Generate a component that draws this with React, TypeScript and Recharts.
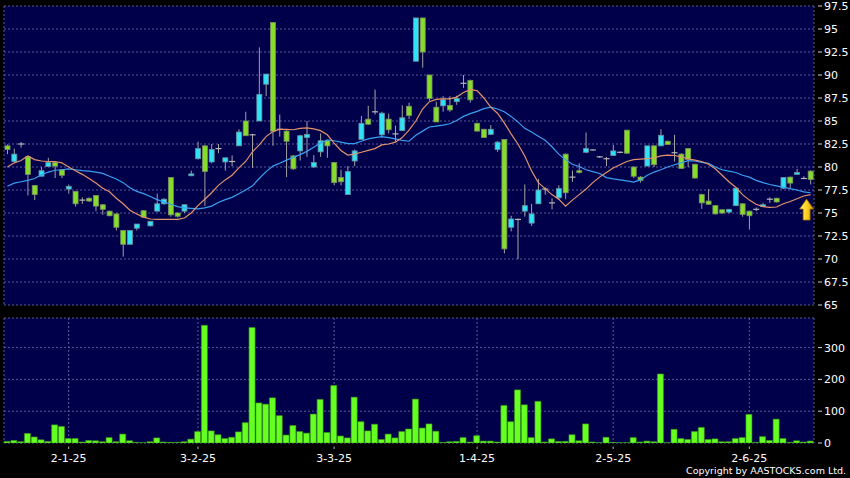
import React from 'react';
import { ComposedChart, Bar, Line, XAxis, YAxis, CartesianGrid } from 'recharts';

const opens = [82.3, 80.6, 82.5, 81.1, 78.0, 79.0, 80.05, 80.5, 79.7, 77.6,
  77.35, 76.4, 76.6, 76.9, 75.9, 75.2, 74.9, 73.1, 71.6, 73.35,
  75.25, 73.6, 75.2, 76.0, 78.85, 75.0, 75.2, 79.05, 80.9, 82.3,
  80.55, 82.0, 80.55, 80.6, 82.3, 85.0, 83.5, 85.0, 89.0, 95.7,
  84.1, 83.9, 81.2, 81.75, 83.2, 80.0, 81.65, 82.85, 80.5, 78.85,
  77.0, 80.65, 83.0, 85.2, 86.0, 83.5, 85.2, 83.6, 83.95, 86.6,
  91.5, 96.2, 90.0, 86.5, 86.65, 86.7, 87.1, 89.1, 89.4, 84.75,
  84.1, 83.55, 81.9, 83.0, 73.45, 74.3, 75.2, 73.9, 76.0, 77.6,
  76.1, 76.65, 81.4, 78.9, 79.6, 81.6, 81.85, 81.1, 80.9, 81.25,
  81.6, 84.0, 80.0, 78.9, 80.1, 82.3, 82.3, 82.8, 81.55, 81.4,
  82.0, 80.3, 77.0, 76.3, 75.8, 75.35, 75.1, 75.8, 76.0, 75.2,
  75.4, 75.7, 76.5, 76.6, 77.7, 78.9, 79.2, 78.75, 79.55];

const highs = [82.45, 82.0, 82.7, 81.2, 78.05, 80.0, 81.0, 80.6, 79.75, 78.1,
  77.4, 76.7, 76.7, 76.95, 75.95, 75.25, 74.95, 73.1, 73.1, 73.8,
  75.3, 74.1, 77.1, 76.6, 78.9, 75.05, 75.9, 79.6, 82.75, 82.35,
  82.5, 82.5, 81.0, 81.25, 84.1, 86.0, 83.6, 93.0, 90.1, 95.7,
  85.7, 84.0, 81.3, 83.5, 85.0, 81.3, 83.65, 82.9, 80.5, 79.7,
  80.1, 81.9, 85.55, 86.65, 88.4, 86.0, 85.8, 84.5, 86.7, 87.0,
  96.2, 96.2, 90.0, 87.1, 87.7, 87.7, 87.75, 90.0, 89.5, 84.8,
  84.15, 84.55, 82.8, 83.0, 74.7, 74.4, 78.1, 76.0, 78.7, 77.8,
  76.6, 78.0, 81.45, 79.6, 80.4, 83.75, 81.9, 81.2, 81.1, 82.4,
  81.7, 84.05, 80.05, 79.0, 82.3, 82.35, 84.1, 82.85, 83.5, 81.5,
  82.05, 80.35, 77.1, 77.6, 75.85, 75.4, 75.45, 77.7, 76.05, 75.25,
  75.6, 76.1, 76.7, 76.65, 78.85, 78.95, 79.8, 79.0, 79.65];

const lows = [81.4, 80.5, 82.1, 76.9, 76.4, 78.95, 80.0, 78.8, 78.8, 77.1,
  75.7, 76.0, 76.2, 75.2, 74.8, 74.65, 73.1, 70.25, 71.6, 73.1,
  74.5, 73.55, 75.2, 75.9, 74.6, 74.5, 75.0, 79.0, 80.8, 75.75,
  80.4, 81.5, 79.6, 80.1, 82.3, 83.4, 79.9, 85.0, 87.7, 82.3,
  83.3, 78.9, 79.7, 80.7, 81.1, 79.9, 81.1, 81.0, 78.0, 78.0,
  77.0, 80.1, 83.0, 84.6, 85.7, 83.2, 83.65, 82.75, 83.9, 85.2,
  91.5, 90.8, 87.2, 84.9, 86.0, 86.0, 86.75, 88.6, 87.0, 83.9,
  83.2, 83.5, 81.65, 70.6, 73.0, 70.0, 74.6, 73.6, 76.0, 77.0,
  75.4, 76.4, 76.5, 78.4, 79.3, 81.5, 81.8, 81.0, 80.1, 81.2,
  81.5, 81.45, 78.8, 78.3, 80.1, 80.0, 82.3, 82.4, 80.6, 79.8,
  80.0, 78.75, 75.45, 75.9, 74.85, 74.9, 74.95, 75.75, 74.6, 73.2,
  75.2, 75.65, 76.1, 76.15, 77.6, 77.7, 79.15, 78.7, 78.1];

const closes = [81.9, 81.4, 82.5, 79.2, 77.0, 79.6, 80.5, 80.1, 79.1, 77.9,
  76.0, 76.4, 76.3, 75.75, 75.4, 74.7, 73.45, 71.6, 73.1, 73.8,
  74.55, 74.1, 76.0, 76.5, 74.8, 74.65, 75.9, 79.25, 82.0, 79.5,
  81.9, 82.0, 81.0, 80.6, 83.8, 83.4, 83.5, 87.9, 90.1, 83.9,
  84.1, 82.8, 79.8, 83.4, 83.55, 80.5, 82.85, 82.3, 78.3, 78.4,
  79.5, 81.75, 84.75, 84.65, 86.0, 85.85, 84.05, 83.6, 85.35, 85.6,
  96.2, 92.5, 87.45, 84.9, 87.3, 86.2, 87.45, 89.1, 87.3, 83.9,
  83.2, 84.1, 82.7, 71.1, 74.35, 74.3, 75.8, 74.9, 77.5, 77.6,
  76.1, 77.65, 77.2, 78.9, 79.4, 82.0, 81.85, 81.1, 80.9, 81.75,
  81.6, 81.5, 79.0, 78.55, 82.3, 80.25, 83.45, 82.45, 81.55, 79.85,
  80.8, 78.8, 76.1, 75.95, 74.9, 75.0, 75.4, 77.7, 74.85, 74.7,
  75.4, 75.9, 76.5, 76.2, 78.85, 78.25, 79.4, 78.75, 78.65];

const maShort = [80.0, 80.45, 80.7, 81.2, 80.8, 80.65, 80.6, 80.6, 80.45, 80.0,
  79.6, 79.2, 78.75, 78.25, 77.7, 77.3, 76.6, 76.0, 75.3, 74.9,
  74.55, 74.35, 74.3, 74.3, 74.3, 74.3, 74.45, 75.0, 75.8, 76.5,
  77.2, 78.0, 78.6, 79.1, 79.9, 80.6, 81.65, 82.4, 83.3, 83.85,
  84.1, 84.1, 84.05, 84.2, 84.25, 84.15, 83.95, 83.5, 82.6, 81.8,
  81.3, 81.4, 81.6, 81.8, 82.0, 82.4, 82.5, 82.7, 83.2, 84.0,
  85.0, 86.3, 87.1, 87.35, 87.4, 87.4, 87.6, 88.1, 88.4, 88.3,
  87.5, 86.5, 85.85, 84.8, 83.6, 82.5, 81.2, 79.6, 78.3, 77.65,
  77.0, 76.5, 75.75, 76.4, 77.0, 77.6, 78.3, 78.9, 79.4, 79.9,
  80.25, 80.6, 80.8, 80.85, 80.9, 81.0, 81.2, 81.3, 81.25, 81.1,
  80.9, 80.75, 80.6, 80.3, 79.8, 79.1, 78.4, 77.8, 77.0, 76.4,
  75.95, 75.7, 75.62, 75.65, 76.0, 76.25, 76.55, 76.85, 77.0];

const maLong = [77.9, 78.25, 78.4, 78.55, 78.75, 79.15, 79.45, 79.65, 79.7, 79.8,
  79.7, 79.6, 79.55, 79.45, 79.3, 79.0, 78.7, 78.3, 77.75, 77.35,
  77.1, 76.8, 76.45, 76.2, 75.95, 75.7, 75.55, 75.5, 75.45, 75.55,
  75.75, 76.15, 76.45, 76.7, 77.1, 77.5, 77.95, 78.75, 79.5, 80.1,
  80.4, 80.75, 81.05, 81.35, 81.7, 82.15, 82.6, 82.95, 82.85, 82.7,
  82.55, 82.55, 82.8, 83.05, 83.2, 83.3, 83.2, 83.05, 82.9, 82.8,
  83.45, 83.9, 84.35, 84.45, 84.55, 84.7, 85.05, 85.5, 85.8, 86.05,
  86.35, 86.5, 86.3, 86.0, 85.5, 84.9, 84.2, 83.8, 83.35, 82.9,
  82.2, 81.4, 80.8, 80.3, 80.05, 79.7, 79.5, 79.3, 78.85, 78.7,
  78.6, 78.5, 78.35, 78.6, 79.1, 79.45, 79.7, 80.0, 80.25, 80.45,
  80.7, 80.65, 80.5, 80.4, 80.0, 79.7, 79.55, 79.4, 79.1, 78.9,
  78.55, 78.3, 78.1, 77.95, 77.8, 77.65, 77.5, 77.3, 77.2];

const volumes = [5, 8, 4, 30, 19, 10, 5, 57, 52, 14,
  14, 3, 8, 7, 4, 17, 4, 28, 7, 2,
  1, 4, 16, 3, 2, 2, 4, 12, 36, 370,
  38, 26, 14, 18, 35, 64, 363, 126, 122, 142,
  86, 25, 55, 36, 31, 91, 137, 33, 181, 22,
  16, 144, 67, 38, 59, 11, 28, 16, 36, 44,
  138, 47, 60, 37, 2, 4, 5, 17, 3, 23,
  6, 6, 3, 118, 67, 167, 120, 17, 131, 3,
  13, 5, 5, 26, 7, 60, 3, 1, 18, 2,
  1, 1, 17, 3, 6, 4, 217, 1, 43, 14,
  11, 36, 49, 11, 13, 4, 4, 14, 17, 90,
  2, 20, 8, 75, 14, 2, 7, 3, 6];

const tickIndex = [9, 28, 48, 69, 89, 109];
const tickLabels = ['2-1-25', '3-2-25', '3-3-25', '1-4-25', '2-5-25', '2-6-25'];
const priceTicks = [65, 67.5, 70, 72.5, 75, 77.5, 80, 82.5, 85, 87.5, 90, 92.5, 95, 97.5];
const volTicks = [0, 100, 200, 300];

const data = opens.map((o, i) => ({
  i,
  o,
  h: highs[i],
  l: lows[i],
  c: closes[i],
  range: [lows[i], highs[i]],
  ma10: maShort[i],
  ma20: maLong[i],
  v: volumes[i],
}));

const FONT = 'DejaVu Sans, Verdana, sans-serif';
const NAVY = '#00004a';
const GRID = '#5a5a96';

const Candle = (props: any) => {
  const { x, y, width, height, payload } = props;
  if (x == null || payload == null) return <g />;
  const top = Math.min(y, y + height);
  const bot = Math.max(y, y + height);
  const { o, h, l, c } = payload;
  const span = h - l;
  const toY = (p: number) => (span === 0 ? top : top + ((h - p) / span) * (bot - top));
  const cx = x + width / 2;
  if (o === c) {
    const yy = toY(o);
    return (
      <g>
        <line x1={cx} x2={cx} y1={top} y2={bot} stroke="#a8a8a8" strokeWidth={1} />
        <line x1={x - 0.5} x2={x + width + 0.5} y1={yy} y2={yy} stroke="#b8b8b8" strokeWidth={1.2} />
      </g>
    );
  }
  const up = c > o;
  const bTop = toY(Math.max(o, c));
  const bBot = toY(Math.min(o, c));
  return (
    <g>
      <line x1={cx} x2={cx} y1={top} y2={bot} stroke="#a0a0a0" strokeWidth={1} />
      <rect
        x={x}
        y={bTop}
        width={width}
        height={Math.max(1, bBot - bTop)}
        fill={up ? '#30e2f6' : '#86dc2a'}
        stroke={up ? '#6a90a0' : '#7a9060'}
        strokeWidth={0.8}
      />
    </g>
  );
};

const ArrowDot = (props: any) => {
  const { cx, cy, index } = props;
  if (index !== data.length - 1 || cx == null || cy == null) return <g key={`d${index}`} />;
  const ax = cx - 4;
  const ty = cy + 4.5;
  return (
    <g key="arrow">
      <defs>
        <linearGradient id="arrowGrad" x1="0" y1="0" x2="1" y2="0">
          <stop offset="0" stopColor="#fff08a" />
          <stop offset="0.5" stopColor="#ffd21e" />
          <stop offset="1" stopColor="#d89a00" />
        </linearGradient>
      </defs>
      <path
        d={`M${ax},${ty} L${ax + 7},${ty + 10} L${ax + 3.5},${ty + 10} L${ax + 3.5},${ty + 21} L${ax - 3.5},${ty + 21} L${ax - 3.5},${ty + 10} L${ax - 7},${ty + 10} Z`}
        fill="url(#arrowGrad)"
        stroke="#9a6a00"
        strokeWidth={0.8}
      />
    </g>
  );
};

const RightTick = (props: any) => {
  const { x, y, payload } = props;
  return (
    <g>
      <line x1={x + 4} x2={x + 8} y1={y} y2={y} stroke="#d0d0d0" strokeWidth={1} />
      <text x={x + 10} y={y + 4} fill="#ffffff" fontSize={11} fontFamily={FONT}>
        {payload.value}
      </text>
    </g>
  );
};

const DateTick = (props: any) => {
  const { x, y, payload } = props;
  const k = tickIndex.indexOf(payload.value);
  return (
    <g>
      <line x1={x} x2={x} y1={y + 3.5} y2={y + 6} stroke="#b0b0b0" strokeWidth={1} />
      <text x={x} y={y + 19} fill="#ffffff" fontSize={11} fontFamily={FONT} textAnchor="middle">
        {k >= 0 ? tickLabels[k] : ''}
      </text>
    </g>
  );
};

export default function App() {
  return (
    <div style={{ position: 'relative', width: 850, height: 478, background: '#000', overflow: 'hidden' }}>
      <style>{`body{margin:0;background:#000;}`}</style>
      <div style={{ position: 'absolute', left: 0, top: 0 }}>
        <ComposedChart width={850} height={318} data={data} margin={{ top: 6, right: 0, bottom: 12, left: 4 }} barCategoryGap={0}>
          <CartesianGrid stroke={GRID} strokeDasharray="2 2" fill={NAVY} fillOpacity={1} />
          <XAxis dataKey="i" type="category" ticks={tickIndex} interval={0} tick={false} axisLine={false} tickLine={false} height={1} />
          <YAxis
            orientation="right"
            domain={[65, 97.5]}
            ticks={priceTicks}
            interval={0}
            width={36}
            axisLine={false}
            tickLine={false}
            tickSize={0}
            tickMargin={0}
            tick={<RightTick />}
            allowDataOverflow
          />
          <Bar dataKey="range" barSize={5} shape={<Candle />} isAnimationActive={false} />
          <Line dataKey="ma20" type="linear" stroke="#3a9ff0" strokeWidth={1.2} dot={false} isAnimationActive={false} />
          <Line dataKey="ma10" type="linear" stroke="#e3936b" strokeWidth={1.2} dot={ArrowDot} activeDot={false} isAnimationActive={false} />
        </ComposedChart>
      </div>
      <div style={{ position: 'absolute', left: 0, top: 310 }}>
        <ComposedChart width={850} height={168} data={data} margin={{ top: 8, right: 0, bottom: 0, left: 4 }} barCategoryGap={0}>
          <CartesianGrid stroke={GRID} strokeDasharray="2 2" fill={NAVY} fillOpacity={1} />
          <XAxis
            dataKey="i"
            type="category"
            ticks={tickIndex}
            interval={0}
            axisLine={false}
            tickLine={false}
            tickSize={0}
            tickMargin={0}
            height={35}
            tick={<DateTick />}
          />
          <YAxis
            orientation="right"
            domain={[0, 393]}
            ticks={volTicks}
            interval={0}
            width={36}
            axisLine={false}
            tickLine={false}
            tickSize={0}
            tickMargin={0}
            tick={<RightTick />}
            allowDataOverflow
          />
          <Bar dataKey="v" barSize={6} fill="#66ff22" stroke="#3a9a14" strokeWidth={0.6} isAnimationActive={false} />
        </ComposedChart>
      </div>
      <div
        style={{
          position: 'absolute',
          right: 4,
          top: 465,
          fontSize: 9.5,
          lineHeight: '12px',
          color: '#ffffff',
          fontFamily: FONT,
          whiteSpace: 'nowrap',
        }}
      >
        Copyright by AASTOCKS.com Ltd.
      </div>
    </div>
  );
}
